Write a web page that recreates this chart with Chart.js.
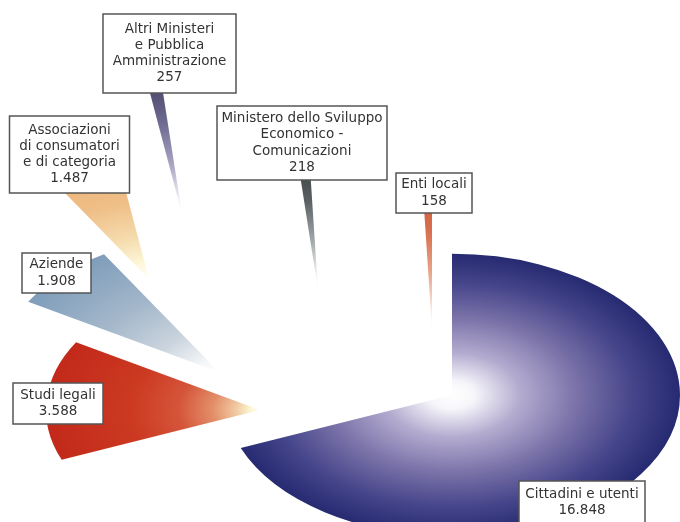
<!DOCTYPE html>
<html>
<head>
<meta charset="utf-8">
<script src="https://cdn.jsdelivr.net/npm/chart.js@4/dist/chart.umd.min.js"></script>
<style>
  body { margin: 0; background: #fff; }
  #wrap { width: 680px; height: 522px; overflow: hidden; }
</style>
</head>
<body>
<div id="wrap"><canvas id="pieChart" width="680" height="522"></canvas></div>
<script>
// data
const categories = [
  ['Cittadini e utenti'],
  ['Studi legali'],
  ['Aziende'],
  ['Associazioni', 'di consumatori', 'e di categoria'],
  ['Altri Ministeri', 'e Pubblica', 'Amministrazione'],
  ['Ministero dello Sviluppo', 'Economico -', 'Comunicazioni'],
  ['Enti locali']
];
const values = [16848, 3588, 1908, 1487, 257, 218, 158];

// look of the tilted, exploded pie
const TILT = 0.62;      // vertical squash of the pie
const RADIUS = 224;
// where each slice's tip is moved to, relative to the pie centre (screen px)
const sliceShift = [[0, 0], [-192, 15], [-233, -23], [-303, -116], [-270, -181], [-134, -105], [-20, -65]];
const sliceRadius = [228, 214, 222, 224, 224, 224, 224];
const sliceStops = [
  [[0, '#ffffff'], [0.1, '#f6f5fa'], [0.3, '#b3abcf'], [0.55, '#7a72a8'], [0.8, '#44448a'], [1, '#262a70']],
  [[0, '#ffffff'], [0.05, '#fbf3cc'], [0.12, '#f0c6a0'], [0.22, '#e3906a'], [0.38, '#d5553a'], [0.6, '#cc3a22'], [1, '#c2291a']],
  [[0, '#ffffff'], [0.1, '#f4f6f8'], [0.3, '#cbd4de'], [0.6, '#a3b7ca'], [1, '#7f9dba']],
  [[0, '#ffffff'], [0.12, '#fdf6d8'], [0.3, '#f5dcae'], [0.55, '#efbf88'], [1, '#ebad6c']],
  [[0, '#ffffff'], [0.12, '#eeeef4'], [0.35, '#aaa6c4'], [0.65, '#6f6b92'], [1, '#454262']],
  [[0, '#ffffff'], [0.12, '#f0f0f0'], [0.35, '#a3a8aa'], [0.65, '#5a5f61'], [1, '#313638']],
  [[0, '#ffffff'], [0.12, '#fbefe9'], [0.4, '#e8a890'], [0.7, '#d9704f'], [1, '#cf5a3a']]
];
// label boxes: left, top, width, height
const labelBoxes = [
  [519, 481, 126, 46], [13, 383, 90, 41], [22, 253, 69, 40], [9.5, 116, 120, 77],
  [103, 14, 133, 79], [217, 106, 170, 74], [396, 173, 76, 40]
];

function fmt(v) {
  return String(v).replace(/\B(?=(\d{3})+(?!\d))/g, '.');
}

function pieCentre(chart) {
  const a = chart.chartArea;
  return { x: (a.left + a.right) / 2, y: (a.top + a.bottom) / 2 };
}

function sliceFill(c) {
  if (c.type !== 'data' || !c.chart.chartArea) return '#ffffff';
  const i = c.dataIndex;
  const p = pieCentre(c.chart);
  const x = p.x + sliceShift[i][0];
  const y = p.y + sliceShift[i][1] / TILT;
  const g = c.chart.ctx.createRadialGradient(x, y, 0, x, y, sliceRadius[i]);
  sliceStops[i].forEach(s => g.addColorStop(s[0], s[1]));
  return g;
}

const tiltPie = {
  id: 'tiltPie',
  afterDatasetUpdate(chart, args) {
    const p = pieCentre(chart);
    args.meta.data.forEach((arc, i) => {
      arc.x = p.x + sliceShift[i][0];
      arc.y = p.y + sliceShift[i][1] / TILT;
      arc.outerRadius = sliceRadius[i];
    });
  },
  beforeDatasetsDraw(chart) {
    const ctx = chart.ctx;
    const cy = pieCentre(chart).y;
    ctx.save();
    ctx.translate(0, cy);
    ctx.scale(1, TILT);
    ctx.translate(0, -cy);
  },
  afterDatasetsDraw(chart) {
    chart.ctx.restore();
  },
  afterDraw(chart) {
    const ctx = chart.ctx;
    const lh = 16.3;
    ctx.save();
    ctx.font = '13.5px "DejaVu Sans", Verdana, sans-serif';
    ctx.textAlign = 'center';
    ctx.textBaseline = 'middle';
    categories.forEach((lines, i) => {
      const [bx, by, bw, bh] = labelBoxes[i];
      ctx.fillStyle = '#ffffff';
      ctx.fillRect(bx, by, bw, bh);
      ctx.strokeStyle = '#555555';
      ctx.lineWidth = 1.5;
      ctx.strokeRect(bx, by, bw, bh);
      const text = lines.concat([fmt(values[i])]);
      // the bottom box runs off the page, so its text starts from the top
      const first = i === 0 ? by + 13 : by + bh / 2 - (text.length - 1) * lh / 2;
      ctx.fillStyle = '#333333';
      text.forEach((t, k) => ctx.fillText(t, bx + bw / 2, first + k * lh));
    });
    ctx.restore();
  }
};

new Chart(document.getElementById('pieChart'), {
  type: 'pie',
  data: {
    labels: categories,
    datasets: [{
      data: values,
      backgroundColor: sliceFill,
      borderWidth: 0,
      radius: RADIUS,
      clip: false
    }]
  },
  options: {
    responsive: false,
    animation: false,
    events: [],
    layout: { padding: { left: 224, top: 268, right: 0, bottom: 0 } },
    plugins: {
      legend: { display: false },
      tooltip: { enabled: false }
    }
  },
  plugins: [tiltPie]
});
</script>
</body>
</html>
